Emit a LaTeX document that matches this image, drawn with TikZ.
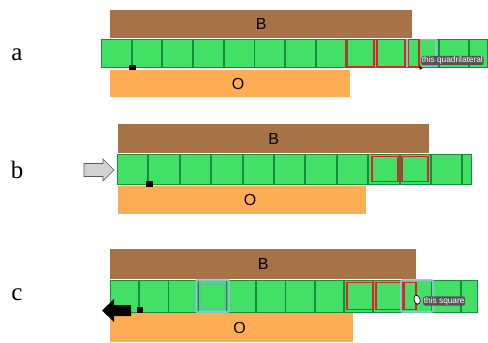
\documentclass[tikz,border=0pt]{standalone}
\usepackage{fontspec}
\setmainfont{Liberation Serif}
\setsansfont{Liberation Sans}
\definecolor{barbrown}{RGB}{166,114,70}
\definecolor{bargreen}{RGB}{67,224,102}
\definecolor{celledge}{RGB}{22,140,62}
\definecolor{barorange}{RGB}{255,173,85}
\definecolor{markred}{RGB}{228,30,40}
\definecolor{hilite}{RGB}{140,200,215}
\definecolor{tipgray}{RGB}{85,85,85}
\begin{document}
\begin{tikzpicture}[x=1pt,y=-1pt,
  bbar/.style={fill=barbrown, draw=none, inner sep=0pt, anchor=north west},
  obar/.style={fill=barorange, draw=none, inner sep=0pt, anchor=north west},
  strip/.style={fill=bargreen, draw=celledge, line width=1.4pt, inner sep=0pt, anchor=north west},
  cellline/.style={draw=celledge, line width=1.9pt},
  redbox/.style={draw=markred, line width=1.3pt},
  hibox/.style={draw=hilite, line width=1.6pt, opacity=0.9},
  bartext/.style={font=\sffamily\fontsize{16}{16}\selectfont, inner sep=0pt},
  panel/.style={font=\fontsize{25}{25}\selectfont, inner sep=0pt},
  tip/.style={fill=tipgray, rounded corners=2pt, text=white, inner sep=0.7pt,
    font=\sffamily\fontsize{8.3}{8.3}\selectfont, anchor=west},
  tick/.style={fill=black, draw=none}]
\useasboundingbox (0,0) rectangle (488,343);

% ---------- a ----------
\node[panel] (la) at (17,55) {a};
\node[bbar, minimum width=302pt, minimum height=28pt] (Ba) at (110,10) {};
\node[bartext] (Bta) at (Ba.center) {B};
\node[obar, minimum width=240pt, minimum height=27pt] (Oa) at (110,70) {};
\node[bartext] (Ota) at ([xshift=8pt]Oa.center) {O};
\node[strip, minimum width=386pt, minimum height=28pt] (Sa) at (101,39) {};
\foreach \i in {1,...,12}{
  \pgfmathsetmacro\xx{101+30.7*\i}
  \draw[cellline] (\xx,39) -- (\xx,67);
}
\fill[tick] (129,65) rectangle (136,70);
\draw[redbox] (346,39.5) rectangle (374,66.5);
\draw[redbox] (377,39.5) rectangle (405,66.5);
\draw[hibox] (407,39.5) rectangle (436,66.5);
\draw[redbox] (408.5,39.5) rectangle (419,66.5);
\node[tip] (ta) at (421,60.5) {this quadrilateral};
\fill[black] (419.5,65) -- (419.5,70) -- (421,68.8) -- (422.5,69) -- cycle;

% ---------- b ----------
\node[panel] (lb) at (17,170) {b};
\node[bbar, minimum width=311pt, minimum height=29pt] (Bb) at (118,124) {};
\node[bartext] (Btb) at (Bb.center) {B};
\node[obar, minimum width=248pt, minimum height=28pt] (Ob) at (118,186) {};
\node[bartext] (Otb) at ([xshift=8pt]Ob.center) {O};
\node[strip, minimum width=354pt, minimum height=30pt] (Sb) at (117,154) {};
\foreach \i in {1,...,11}{
  \pgfmathsetmacro\xx{117+31.4*\i}
  \draw[cellline] (\xx,154) -- (\xx,184);
}
\fill[tick] (146,181) rectangle (153,187);
\draw[redbox] (372,156.5) rectangle (398,181.5);
\draw[redbox] (402,156.5) rectangle (428,181.5);
\draw[draw=gray!70!black, fill=gray!35, line width=0.6pt]
  (84,163.5) -- (103,163.5) -- (103,159) -- (114,170) -- (103,181)
  -- (103,176.5) -- (84,176.5) -- cycle;

% ---------- c ----------
\node[panel] (lc) at (17,295) {c};
\node[bbar, minimum width=306pt, minimum height=30pt] (Bc) at (110,249) {};
\node[bartext] (Btc) at (Bc.center) {B};
\node[obar, minimum width=243pt, minimum height=29pt] (Oc) at (110,313) {};
\node[bartext] (Otc) at ([xshift=8pt]Oc.center) {O};
\node[strip, minimum width=367pt, minimum height=32pt] (Sc) at (110,280) {};
\foreach \i in {1,...,12}{
  \pgfmathsetmacro\xx{110+29.25*\i}
  \draw[cellline] (\xx,280) -- (\xx,312);
}
\fill[tick] (137,307) rectangle (143,313);
% highlighted cell
\draw[hibox, line width=2.2pt, rounded corners=1pt] (196.5,280) rectangle (228.5,312);
\draw[draw=hilite!70!celledge, line width=0.8pt] (200.5,284) rectangle (224.5,308);
\draw[redbox] (347,282.5) rectangle (373,309.5);
\draw[redbox] (376,282.5) rectangle (402,309.5);
\draw[hibox, line width=2pt, rounded corners=2pt] (401,280) rectangle (433,312);
\draw[redbox] (404,282.5) rectangle (416,309.5);
\node[tip] (tc) at (423,301) {this square};
\draw[fill=white, line width=0.6pt, rounded corners=1.5pt]
  (414,297) -- (416,294.5) -- (418,296) -- (420,298.5) -- (420.5,302.5)
  -- (418,304.5) -- (415.5,303.5) -- (414,300) -- cycle;
\fill[black] (102,310.5) -- (114,299) -- (114,305) -- (131,305)
  -- (131,316) -- (114,316) -- (114,322) -- cycle;
\end{tikzpicture}
\end{document}
